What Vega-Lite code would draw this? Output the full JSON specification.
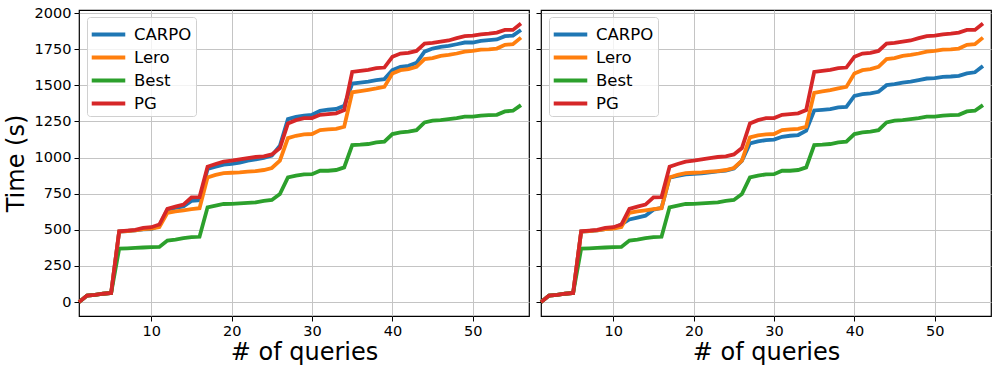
{
  "$schema": "https://vega.github.io/schema/vega-lite/v6.json",
  "background": "white",
  "padding": {"left": 3, "top": 4, "right": 5, "bottom": 5},
  "datasets": {
    "left": [
      {"q":1,"CARPO":0,"Lero":0,"Best":0,"PG":0},
      {"q":2,"CARPO":45,"Lero":45,"Best":45,"PG":45},
      {"q":3,"CARPO":50,"Lero":50,"Best":50,"PG":50},
      {"q":4,"CARPO":58,"Lero":58,"Best":58,"PG":58},
      {"q":5,"CARPO":63,"Lero":63,"Best":63,"PG":63},
      {"q":6,"CARPO":488,"Lero":488,"Best":370,"PG":490},
      {"q":7,"CARPO":492,"Lero":492,"Best":372,"PG":495},
      {"q":8,"CARPO":497,"Lero":497,"Best":375,"PG":500},
      {"q":9,"CARPO":503,"Lero":505,"Best":378,"PG":513},
      {"q":10,"CARPO":505,"Lero":508,"Best":380,"PG":518},
      {"q":11,"CARPO":530,"Lero":520,"Best":382,"PG":537},
      {"q":12,"CARPO":640,"Lero":618,"Best":426,"PG":645},
      {"q":13,"CARPO":652,"Lero":627,"Best":433,"PG":661},
      {"q":14,"CARPO":662,"Lero":635,"Best":442,"PG":675},
      {"q":15,"CARPO":700,"Lero":643,"Best":449,"PG":725},
      {"q":16,"CARPO":705,"Lero":650,"Best":452,"PG":727},
      {"q":17,"CARPO":921,"Lero":863,"Best":656,"PG":937},
      {"q":18,"CARPO":937,"Lero":880,"Best":668,"PG":956},
      {"q":19,"CARPO":951,"Lero":893,"Best":679,"PG":972},
      {"q":20,"CARPO":956,"Lero":895,"Best":680,"PG":979},
      {"q":21,"CARPO":965,"Lero":898,"Best":683,"PG":988},
      {"q":22,"CARPO":979,"Lero":903,"Best":686,"PG":997},
      {"q":23,"CARPO":988,"Lero":907,"Best":690,"PG":1004},
      {"q":24,"CARPO":997,"Lero":914,"Best":700,"PG":1009},
      {"q":25,"CARPO":1013,"Lero":928,"Best":707,"PG":1022},
      {"q":26,"CARPO":1082,"Lero":979,"Best":748,"PG":1066},
      {"q":27,"CARPO":1266,"Lero":1135,"Best":863,"PG":1236},
      {"q":28,"CARPO":1282,"Lero":1151,"Best":875,"PG":1259},
      {"q":29,"CARPO":1290,"Lero":1160,"Best":884,"PG":1273},
      {"q":30,"CARPO":1296,"Lero":1163,"Best":885,"PG":1273},
      {"q":31,"CARPO":1324,"Lero":1190,"Best":909,"PG":1296},
      {"q":32,"CARPO":1331,"Lero":1195,"Best":909,"PG":1301},
      {"q":33,"CARPO":1336,"Lero":1199,"Best":914,"PG":1306},
      {"q":34,"CARPO":1358,"Lero":1213,"Best":932,"PG":1329},
      {"q":35,"CARPO":1512,"Lero":1452,"Best":1087,"PG":1593},
      {"q":36,"CARPO":1519,"Lero":1460,"Best":1089,"PG":1600},
      {"q":37,"CARPO":1526,"Lero":1469,"Best":1094,"PG":1607},
      {"q":38,"CARPO":1536,"Lero":1478,"Best":1105,"PG":1619},
      {"q":39,"CARPO":1543,"Lero":1489,"Best":1110,"PG":1623},
      {"q":40,"CARPO":1605,"Lero":1582,"Best":1163,"PG":1697},
      {"q":41,"CARPO":1628,"Lero":1605,"Best":1175,"PG":1720},
      {"q":42,"CARPO":1635,"Lero":1612,"Best":1180,"PG":1724},
      {"q":43,"CARPO":1655,"Lero":1628,"Best":1190,"PG":1738},
      {"q":44,"CARPO":1733,"Lero":1681,"Best":1243,"PG":1789},
      {"q":45,"CARPO":1754,"Lero":1688,"Best":1255,"PG":1793},
      {"q":46,"CARPO":1766,"Lero":1704,"Best":1259,"PG":1802},
      {"q":47,"CARPO":1773,"Lero":1711,"Best":1266,"PG":1810},
      {"q":48,"CARPO":1784,"Lero":1720,"Best":1273,"PG":1826},
      {"q":49,"CARPO":1796,"Lero":1733,"Best":1283,"PG":1840},
      {"q":50,"CARPO":1796,"Lero":1738,"Best":1283,"PG":1844},
      {"q":51,"CARPO":1807,"Lero":1747,"Best":1290,"PG":1853},
      {"q":52,"CARPO":1812,"Lero":1749,"Best":1294,"PG":1858},
      {"q":53,"CARPO":1817,"Lero":1754,"Best":1296,"PG":1865},
      {"q":54,"CARPO":1840,"Lero":1780,"Best":1319,"PG":1883},
      {"q":55,"CARPO":1844,"Lero":1784,"Best":1324,"PG":1883},
      {"q":56,"CARPO":1883,"Lero":1830,"Best":1363,"PG":1927}
    ],
    "right": [
      {"q":1,"CARPO":0,"Lero":0,"Best":0,"PG":0},
      {"q":2,"CARPO":45,"Lero":45,"Best":45,"PG":45},
      {"q":3,"CARPO":50,"Lero":50,"Best":50,"PG":50},
      {"q":4,"CARPO":58,"Lero":58,"Best":58,"PG":58},
      {"q":5,"CARPO":63,"Lero":63,"Best":63,"PG":63},
      {"q":6,"CARPO":488,"Lero":488,"Best":370,"PG":490},
      {"q":7,"CARPO":492,"Lero":492,"Best":372,"PG":495},
      {"q":8,"CARPO":497,"Lero":497,"Best":375,"PG":500},
      {"q":9,"CARPO":505,"Lero":505,"Best":378,"PG":513},
      {"q":10,"CARPO":512,"Lero":508,"Best":380,"PG":518},
      {"q":11,"CARPO":538,"Lero":520,"Best":382,"PG":537},
      {"q":12,"CARPO":572,"Lero":618,"Best":426,"PG":645},
      {"q":13,"CARPO":585,"Lero":627,"Best":433,"PG":661},
      {"q":14,"CARPO":598,"Lero":635,"Best":442,"PG":675},
      {"q":15,"CARPO":640,"Lero":643,"Best":449,"PG":725},
      {"q":16,"CARPO":652,"Lero":650,"Best":452,"PG":727},
      {"q":17,"CARPO":862,"Lero":863,"Best":656,"PG":937},
      {"q":18,"CARPO":873,"Lero":880,"Best":668,"PG":956},
      {"q":19,"CARPO":884,"Lero":893,"Best":679,"PG":972},
      {"q":20,"CARPO":887,"Lero":895,"Best":680,"PG":979},
      {"q":21,"CARPO":891,"Lero":898,"Best":683,"PG":988},
      {"q":22,"CARPO":898,"Lero":903,"Best":686,"PG":997},
      {"q":23,"CARPO":904,"Lero":907,"Best":690,"PG":1004},
      {"q":24,"CARPO":910,"Lero":914,"Best":700,"PG":1009},
      {"q":25,"CARPO":925,"Lero":928,"Best":707,"PG":1022},
      {"q":26,"CARPO":978,"Lero":979,"Best":748,"PG":1066},
      {"q":27,"CARPO":1098,"Lero":1140,"Best":863,"PG":1236},
      {"q":28,"CARPO":1112,"Lero":1153,"Best":875,"PG":1259},
      {"q":29,"CARPO":1121,"Lero":1160,"Best":884,"PG":1273},
      {"q":30,"CARPO":1124,"Lero":1163,"Best":885,"PG":1273},
      {"q":31,"CARPO":1144,"Lero":1190,"Best":909,"PG":1296},
      {"q":32,"CARPO":1151,"Lero":1195,"Best":909,"PG":1301},
      {"q":33,"CARPO":1156,"Lero":1199,"Best":914,"PG":1306},
      {"q":34,"CARPO":1186,"Lero":1213,"Best":932,"PG":1329},
      {"q":35,"CARPO":1326,"Lero":1448,"Best":1087,"PG":1593},
      {"q":36,"CARPO":1330,"Lero":1458,"Best":1089,"PG":1600},
      {"q":37,"CARPO":1335,"Lero":1467,"Best":1094,"PG":1607},
      {"q":38,"CARPO":1347,"Lero":1478,"Best":1105,"PG":1619},
      {"q":39,"CARPO":1351,"Lero":1489,"Best":1110,"PG":1623},
      {"q":40,"CARPO":1427,"Lero":1582,"Best":1163,"PG":1697},
      {"q":41,"CARPO":1439,"Lero":1605,"Best":1175,"PG":1720},
      {"q":42,"CARPO":1444,"Lero":1612,"Best":1180,"PG":1724},
      {"q":43,"CARPO":1455,"Lero":1628,"Best":1190,"PG":1738},
      {"q":44,"CARPO":1501,"Lero":1681,"Best":1243,"PG":1789},
      {"q":45,"CARPO":1508,"Lero":1688,"Best":1255,"PG":1793},
      {"q":46,"CARPO":1519,"Lero":1704,"Best":1259,"PG":1802},
      {"q":47,"CARPO":1526,"Lero":1711,"Best":1266,"PG":1810},
      {"q":48,"CARPO":1536,"Lero":1720,"Best":1273,"PG":1826},
      {"q":49,"CARPO":1547,"Lero":1733,"Best":1283,"PG":1840},
      {"q":50,"CARPO":1549,"Lero":1738,"Best":1283,"PG":1844},
      {"q":51,"CARPO":1559,"Lero":1747,"Best":1290,"PG":1853},
      {"q":52,"CARPO":1561,"Lero":1749,"Best":1294,"PG":1858},
      {"q":53,"CARPO":1566,"Lero":1754,"Best":1296,"PG":1865},
      {"q":54,"CARPO":1583,"Lero":1780,"Best":1319,"PG":1883},
      {"q":55,"CARPO":1590,"Lero":1784,"Best":1324,"PG":1883},
      {"q":56,"CARPO":1633,"Lero":1830,"Best":1363,"PG":1927}
    ]
  },
  "config": {
    "font": "DejaVu Sans",
    "view": {"stroke": "black", "strokeWidth": 1.2},
    "axis": {
      "domain": false,
      "grid": true,
      "gridColor": "#c4c4c4",
      "gridWidth": 1,
      "ticks": true,
      "tickColor": "black",
      "tickSize": 5,
      "tickWidth": 1,
      "labelColor": "black",
      "labelFontSize": 14.5,
      "labelPadding": 3,
      "titleColor": "black",
      "titleFontSize": 24,
      "titleFontWeight": "normal"
    },
    "legend": {
      "title": null,
      "orient": "none",
      "legendX": 8,
      "legendY": 7,
      "fillColor": "rgba(255,255,255,0.8)",
      "strokeColor": "#d0d0d0",
      "cornerRadius": 3,
      "padding": 4,
      "labelFontSize": 16.5,
      "labelColor": "black",
      "labelOffset": 12,
      "symbolType": "M-1.5,0H1.5",
      "symbolSize": 500,
      "symbolStrokeWidth": 4,
      "symbolOffset": 4,
      "rowPadding": 1
    }
  },
  "spacing": 2,
  "resolve": {"legend": {"color": "independent"}},
  "hconcat": [
    {
      "width": 450,
      "height": 306,
      "data": {"name": "left"},
      "transform": [{"fold": ["CARPO", "Lero", "Best", "PG"], "as": ["method", "time"]}],
      "mark": {"type": "line", "strokeWidth": 3.8},
      "encoding": {
        "x": {"field": "q", "type": "quantitative", "scale": {"domain": [1, 57], "nice": false, "zero": false},
              "axis": {"values": [10, 20, 30, 40, 50], "title": "# of queries", "titlePadding": 3}},
        "y": {"field": "time", "type": "quantitative", "scale": {"domain": [-96, 2021], "nice": false},
              "axis": {"values": [0, 250, 500, 750, 1000, 1250, 1500, 1750, 2000], "format": "d", "title": "Time (s)", "titlePadding": 6}},
        "color": {"field": "method", "type": "nominal", "sort": ["CARPO", "Lero", "Best", "PG"],
                  "scale": {"domain": ["CARPO", "Lero", "Best", "PG"], "range": ["#1f77b4", "#ff7f0e", "#2ca02c", "#d62728"]}}
      }
    },
    {
      "width": 450,
      "height": 306,
      "data": {"name": "right"},
      "transform": [{"fold": ["CARPO", "Lero", "Best", "PG"], "as": ["method", "time"]}],
      "mark": {"type": "line", "strokeWidth": 3.8},
      "encoding": {
        "x": {"field": "q", "type": "quantitative", "scale": {"domain": [1, 57], "nice": false, "zero": false},
              "axis": {"values": [10, 20, 30, 40, 50], "title": "# of queries", "titlePadding": 3}},
        "y": {"field": "time", "type": "quantitative", "scale": {"domain": [-96, 2021], "nice": false},
              "axis": {"values": [0, 250, 500, 750, 1000, 1250, 1500, 1750, 2000], "title": null, "labels": false, "minExtent": 0}},
        "color": {"field": "method", "type": "nominal", "sort": ["CARPO", "Lero", "Best", "PG"],
                  "scale": {"domain": ["CARPO", "Lero", "Best", "PG"], "range": ["#1f77b4", "#ff7f0e", "#2ca02c", "#d62728"]}}
      }
    }
  ]
}
